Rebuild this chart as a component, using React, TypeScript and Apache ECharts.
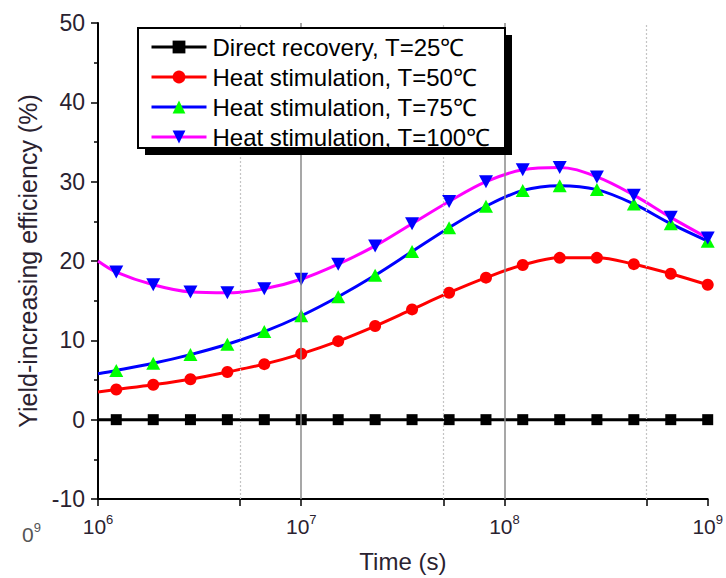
import { useEffect, useRef } from 'react';
import * as echarts from 'echarts';

// Sample times (s); the first point (10^6 s) carries no marker
const timeSeconds = [
  1e6, 1.23e6, 1.87e6, 2.85e6, 4.33e6, 6.58e6, 1e7, 1.52e7, 2.31e7, 3.51e7,
  5.34e7, 8.11e7, 1.23e8, 1.87e8, 2.85e8, 4.33e8, 6.58e8, 1e9,
];

// Yield-increasing efficiency (%) for each case
const directRecovery25 = [0, 0, 0, 0, 0, 0, 0, 0, 0, 0, 0, 0, 0, 0, 0, 0, 0, 0];
const heatStim50 = [
  3.5, 3.8, 4.4, 5.1, 6.0, 7.0, 8.3, 9.9, 11.8, 13.9, 16.0, 17.9, 19.5, 20.4,
  20.4, 19.6, 18.4, 17.0,
];
const heatStim75 = [
  5.8, 6.2, 7.1, 8.2, 9.5, 11.1, 13.1, 15.5, 18.2, 21.2, 24.2, 26.9, 28.9, 29.5,
  29.0, 27.2, 24.7, 22.5,
];
const heatStim100 = [
  20.0, 18.6, 17.0, 16.1, 16.0, 16.5, 17.7, 19.6, 21.9, 24.7, 27.5, 30.0, 31.5,
  31.8, 30.6, 28.3, 25.5, 22.9,
];

const seriesNames = [
  'Direct recovery, T=25℃',
  'Heat stimulation, T=50℃',
  'Heat stimulation, T=75℃',
  'Heat stimulation, T=100℃',
];

const xLabelValues = [1e6, 1e7, 1e8, 1e9];
const xTickValues = [1e6, 5e6, 1e7, 5e7, 1e8, 5e8, 1e9];
const solidGridTimes = [1e7, 1e8];
const dottedGridTimes = [5e6, 5e7, 5e8];

const FONT = 'Arial, "Liberation Sans", sans-serif';

function toPoints(values: number[]) {
  return timeSeconds.map((t, i) =>
    i === 0 ? { value: [t, values[i]], symbol: 'none' } : [t, values[i]]
  );
}

function lineSeries(
  name: string,
  values: number[],
  lineColor: string,
  markerColor: string,
  symbol: string,
  symbolSize: number | number[],
  symbolRotate = 0
) {
  return {
    name,
    type: 'line',
    data: toPoints(values),
    smooth: 0.35,
    symbol,
    symbolSize,
    symbolRotate,
    showAllSymbol: true,
    z: 3,
    lineStyle: { color: lineColor, width: 3 },
    itemStyle: { color: markerColor, borderWidth: 0 },
    emphasis: { disabled: true },
  };
}

export default function App() {
  const ref = useRef<HTMLDivElement>(null);

  useEffect(() => {
    if (!ref.current) return;
    const chart = echarts.init(ref.current, null, { renderer: 'svg' });

    const gridLines = [
      ...solidGridTimes.map((t) => ({
        xAxis: t,
        lineStyle: { color: '#8a8a8a', width: 1.5, type: 'solid' },
      })),
      ...dottedGridTimes.map((t) => ({
        xAxis: t,
        lineStyle: { color: '#c4c4c4', width: 1.2, type: [2, 2] },
      })),
    ];

    chart.setOption({
      animation: false,
      backgroundColor: '#ffffff',
      grid: { left: 98, top: 23, width: 615, height: 480, containLabel: false },
      xAxis: {
        type: 'log',
        logBase: 10,
        min: 1e6,
        max: 1e9,
        name: 'Time (s)',
        nameLocation: 'middle',
        nameGap: 50,
        nameTextStyle: { fontFamily: FONT, fontSize: 24, color: '#2a2230' },
        axisLine: { onZero: false, lineStyle: { color: '#000', width: 2 } },
        axisTick: {
          show: true,
          inside: false,
          length: 7,
          lineStyle: { color: '#000', width: 1.5 },
          customValues: xTickValues,
        },
        minorTick: { show: false },
        splitLine: { show: false },
        axisLabel: {
          customValues: xLabelValues,
          margin: 14,
          formatter: (v: number) =>
            '{b|10}{s|' + Math.round(Math.log10(v)) + '}',
          rich: {
            b: { fontFamily: FONT, fontSize: 21, color: '#2a2230', verticalAlign: 'bottom', lineHeight: 24 },
            s: { fontFamily: FONT, fontSize: 13, color: '#2a2230', verticalAlign: 'top', lineHeight: 14 },
          },
        },
      },
      yAxis: {
        type: 'value',
        min: -10,
        max: 50,
        interval: 10,
        name: 'Yield-increasing efficiency (%)',
        nameLocation: 'middle',
        nameGap: 46,
        nameRotate: 90,
        nameTextStyle: { fontFamily: FONT, fontSize: 25, color: '#2a2230' },
        axisLine: { show: true, onZero: false, lineStyle: { color: '#000', width: 2 } },
        axisTick: { show: true, inside: false, length: 7, lineStyle: { color: '#000', width: 1.5 } },
        minorTick: { show: true, splitNumber: 2, length: 4, lineStyle: { color: '#000', width: 1.5 } },
        splitLine: { show: false },
        axisLabel: { margin: 13, fontFamily: FONT, fontSize: 23, color: '#2a2230' },
      },
      legend: {
        data: seriesNames,
        orient: 'vertical',
        left: 150,
        top: 32,
        padding: 0,
        itemGap: 0,
        itemWidth: 55,
        itemHeight: 16,
        z: 10,
        selectedMode: false,
        lineStyle: { width: 3 },
        textStyle: { fontFamily: FONT, fontSize: 24, color: '#000', lineHeight: 30, padding: [0, 0, 0, 1] },
      },
      graphic: [
        {
          type: 'rect',
          z: 8,
          shape: { x: 145, y: 35, width: 367, height: 120 },
          style: { fill: '#000' },
        },
        {
          type: 'rect',
          z: 9,
          shape: { x: 138, y: 28, width: 367, height: 120 },
          style: { fill: '#fff', stroke: '#000', lineWidth: 2 },
        },
        {
          type: 'text',
          z: 9,
          left: 22,
          top: 521,
          style: {
            text: '{b|0}{s|9}',
            rich: {
              b: { fontFamily: FONT, fontSize: 21, fill: '#555', verticalAlign: 'bottom', lineHeight: 24 },
              s: { fontFamily: FONT, fontSize: 13, fill: '#555', verticalAlign: 'top', lineHeight: 14 },
            },
          },
        },
      ],
      series: [
        {
          name: 'grid-lines',
          type: 'line',
          data: [],
          z: 1,
          silent: true,
          markLine: {
            silent: true,
            symbol: 'none',
            label: { show: false },
            data: gridLines,
            animation: false,
          },
        },
        lineSeries(seriesNames[0], directRecovery25, '#000000', '#000000', 'rect', 11),
        lineSeries(seriesNames[1], heatStim50, '#ff0000', '#ff0000', 'circle', 12),
        lineSeries(seriesNames[2], heatStim75, '#0000ff', '#00ff00', 'triangle', [14, 13]),
        lineSeries(seriesNames[3], heatStim100, '#ff00ff', '#0000ff', 'triangle', [14, 13], 180),
      ],
    });

    return () => chart.dispose();
  }, []);

  return (
    <div
      ref={ref}
      style={{ position: 'fixed', left: 0, top: 0, width: 726, height: 578 }}
    />
  );
}
